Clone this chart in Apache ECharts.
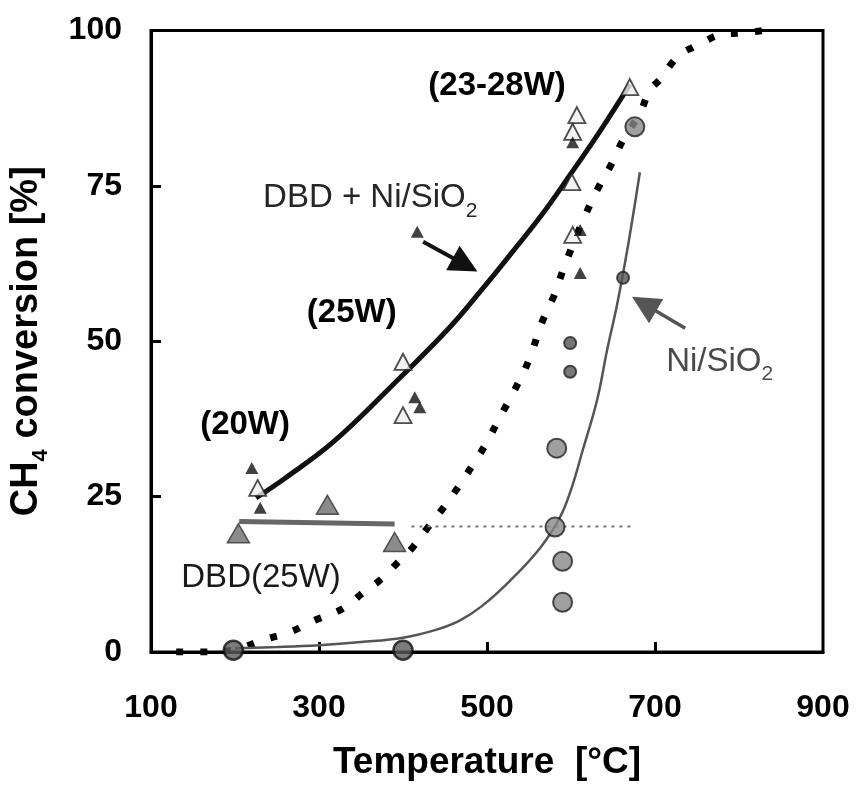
<!DOCTYPE html>
<html><head><meta charset="utf-8">
<script src="https://cdn.jsdelivr.net/npm/echarts@6/dist/echarts.min.js"></script>
<style>html,body{margin:0;padding:0;background:#fff}#c{width:859px;height:788px}</style>
</head><body><div id="c"></div>
<script>
// ---- axis ticks ----
const xTickLabels = [100, 300, 500, 700, 900];
const xTickMarks = [300, 500, 700];

// ---- dotted black curve ----
const eqT = [130, 165, 200, 235, 265, 295, 330, 352, 373, 393, 412, 430, 448, 465, 483, 500, 515, 530, 550, 565, 580, 592, 611, 631, 649, 662, 682, 694, 708, 721, 733, 745, 757, 777, 804, 830];
const eqY = [0, 0, 0.4, 2, 3.2, 5.1, 7.1, 9.5, 11.6, 14.3, 16.9, 20.1, 23.2, 26.4, 30.1, 33.8, 37.7, 41.4, 47, 52.9, 57.4, 62, 68.4, 74.3, 78.7, 82.4, 86.7, 90.4, 92.4, 94.9, 96.4, 97.3, 98.1, 99.3, 99.6, 100];

// ---- DBD + Ni/SiO2 fit (thick black) ----
const hybT = [225, 260, 317, 388, 456, 495, 531, 565, 599, 634, 670];
const hybY = [24.8, 28, 33.8, 43, 52.3, 58.5, 64.5, 70.3, 76.8, 83.7, 91.3];

// ---- Ni/SiO2 fit (thin gray) ----
const catT = [200, 250, 300, 350, 400, 440, 468, 495, 527, 563, 587, 601, 614, 631, 643, 655, 668, 682];
const catY = [0.6, 0.8, 1.1, 1.6, 2.3, 3.6, 5.1, 7.5, 11.4, 16.7, 21.7, 26.5, 32.5, 40.5, 48.6, 56, 65.5, 77.2];

// ---- DBD(25W) level line ----
const dbdLineT = [205, 390];
const dbdLineY = [21, 20.6];

// ---- 20 % reference dotted line ----
const refT = [410, 673];
const refY = [20.2, 20.2];

// ---- markers ----
const openTriT = [227, 400, 400, 607, 602, 601, 602, 670];
const openTriY = [26.4, 46.7, 38.1, 86.4, 83.7, 75.6, 67.1, 90.9];
const blackTriT = [220, 230, 414, 420, 417, 602, 611, 611];
const blackTriY = [29.6, 23.2, 41, 39.4, 67.6, 82, 67.9, 61];
const grayTriT = [204, 310, 390];
const grayTriY = [19.1, 23.7, 17.7];
const bigCircT = [198, 400, 583, 581, 590, 590, 676];
const bigCircY = [0.3, 0.3, 32.8, 20.1, 14.6, 8, 84.5];
const smallCircT = [599, 599, 662];
const smallCircY = [49.7, 45.1, 60.2];

// ---- annotations ----
const annoText = ['(23-28W)', '{a|DBD + Ni/SiO}{s|2}', '(25W)', '(20W)', '{a|DBD(25W)}', '{a|Ni/SiO}{s|2}'];
const annoT = [512, 361, 339, 212, 231, 777];
const annoY = [91.1, 73.0, 54.5, 36.5, 11.9, 46.7];

// ---- arrows [tail, head] ----
const arrowFrom = [[424, 66.0], [736, 52.1]];
const arrowTo = [[474, 62.3], [687, 56.0]];

const FONT = 'Liberation Sans, Arial, Helvetica, sans-serif';
const pairs = (xs, ys) => xs.map((x, i) => [x, ys[i]]);

const annoStyles = [
  {color: '#000', weight: 'bold'},
  {color: '#262626', weight: 'normal'},
  {color: '#000', weight: 'bold'},
  {color: '#000', weight: 'bold'},
  {color: '#1a1a1a', weight: 'normal'},
  {color: '#4a4a4a', weight: 'normal'}
];

const chart = echarts.init(document.getElementById('c'), null, {renderer: 'canvas'});

const option = {
  animation: false,
  backgroundColor: '#fff',
  grid: {left: 151, right: 36, top: 30.5, bottom: 136, show: true, borderColor: '#000', borderWidth: 3, backgroundColor: 'transparent'},
  xAxis: {
    type: 'value', min: 100, max: 900,
    axisLine: {show: true, lineStyle: {color: '#000', width: 3}},
    axisTick: {show: true, inside: true, length: 10, lineStyle: {color: '#000', width: 3}, customValues: xTickMarks},
    axisLabel: {show: true, customValues: xTickLabels, margin: 40, fontSize: 32, fontWeight: 'bold', color: '#000', fontFamily: FONT},
    splitLine: {show: false},
    name: 'Temperature  [°C]', nameLocation: 'middle', nameGap: 92,
    nameTextStyle: {fontSize: 37, fontWeight: 'bold', color: '#000', fontFamily: FONT}
  },
  yAxis: {
    type: 'value', min: 0, max: 100, interval: 25,
    axisLine: {show: true, lineStyle: {color: '#000', width: 3}},
    axisTick: {show: true, inside: true, length: 10, lineStyle: {color: '#000', width: 3}},
    axisLabel: {margin: 29, fontSize: 32, fontWeight: 'bold', color: '#000', fontFamily: FONT},
    splitLine: {show: false},
    name: '{a|CH}{s|4}{a| conversion [%]}', nameLocation: 'middle', nameGap: 99, nameRotate: 90,
    nameTextStyle: {
      rich: {
        a: {fontSize: 38, fontWeight: 'bold', color: '#000', fontFamily: FONT, lineHeight: 50, verticalAlign: 'middle'},
        s: {fontSize: 22, fontWeight: 'bold', color: '#000', fontFamily: FONT, lineHeight: 22, verticalAlign: 'bottom'}
      }
    }
  },
  series: [
    {type: 'line', name: 'equilibrium', data: pairs(eqT, eqY), smooth: 0.4, showSymbol: false, z: 3,
      lineStyle: {color: '#000', width: 7, type: [7, 17], cap: 'butt'}},
    {type: 'line', name: 'DBD + Ni/SiO2 fit', data: pairs(hybT, hybY), smooth: 0.4, showSymbol: false, z: 3,
      lineStyle: {color: '#111', width: 5}},
    {type: 'line', name: 'Ni/SiO2 fit', data: pairs(catT, catY), smooth: 0.4, showSymbol: false, z: 3,
      lineStyle: {color: '#555', width: 2.5}},
    {type: 'line', name: 'DBD fit', data: pairs(dbdLineT, dbdLineY), showSymbol: false, z: 3,
      lineStyle: {color: '#666', width: 5}},
    {type: 'line', name: '20% ref', data: pairs(refT, refY), showSymbol: false, z: 3,
      lineStyle: {color: '#777', width: 2, type: [3, 5]}},
    {type: 'scatter', name: 'DBD', data: pairs(grayTriT, grayTriY), symbol: 'triangle', symbolSize: [22, 19], z: 5,
      itemStyle: {color: '#6e6e6e', borderColor: '#333', borderWidth: 1.5}},
    {type: 'scatter', name: 'DBD + Ni/SiO2 open', data: pairs(openTriT, openTriY), symbol: 'triangle', symbolSize: [17, 16], z: 5,
      itemStyle: {color: '#f0f0f0', borderColor: '#222', borderWidth: 1.8}},
    {type: 'scatter', name: 'DBD + Ni/SiO2 black', data: pairs(blackTriT, blackTriY), symbol: 'triangle', symbolSize: [13, 12], z: 6,
      itemStyle: {color: '#111'}},
    {type: 'scatter', name: 'Ni/SiO2', symbol: 'circle', symbolSize: 19, z: 5, clip: false,
      data: pairs(bigCircT, bigCircY).map(p => p[1] < 1
        ? {value: p, itemStyle: {color: '#5a5a5a', borderColor: '#111', borderWidth: 2.5}}
        : p),
      itemStyle: {color: '#888', borderColor: '#222', borderWidth: 2}},
    {type: 'scatter', name: 'Ni/SiO2 small', data: pairs(smallCircT, smallCircY), symbol: 'circle', symbolSize: 12, z: 5,
      itemStyle: {color: '#555', borderColor: '#222', borderWidth: 2}},
    {type: 'lines', name: 'arrows', coordinateSystem: 'cartesian2d', z: 7,
      symbol: ['none', 'triangle'], symbolSize: 28,
      data: [
        {coords: [arrowFrom[0], arrowTo[0]], lineStyle: {color: '#111', width: 4, opacity: 1}},
        {coords: [arrowFrom[1], arrowTo[1]], lineStyle: {color: '#555', width: 3.5, opacity: 1}}
      ]}
  ]
};
chart.setOption(option);

// annotations placed through the chart's own coordinate conversion
const graphics = annoText.map((t, i) => {
  const p = chart.convertToPixel({gridIndex: 0}, [annoT[i], annoY[i]]);
  const st = annoStyles[i];
  return {
    type: 'text', x: p[0], y: p[1], z: 100, silent: true,
    style: {
      text: t, align: 'center', verticalAlign: 'middle',
      fill: st.color, fontSize: 33, fontWeight: st.weight, fontFamily: FONT,
      rich: {
        a: {fill: st.color, fontSize: 33, fontWeight: st.weight, fontFamily: FONT, lineHeight: 46, verticalAlign: 'middle'},
        s: {fill: st.color, fontSize: 21, fontWeight: st.weight, fontFamily: FONT, lineHeight: 21, verticalAlign: 'bottom'}
      }
    }
  };
});
chart.setOption({graphic: graphics});
</script>
</body></html>
